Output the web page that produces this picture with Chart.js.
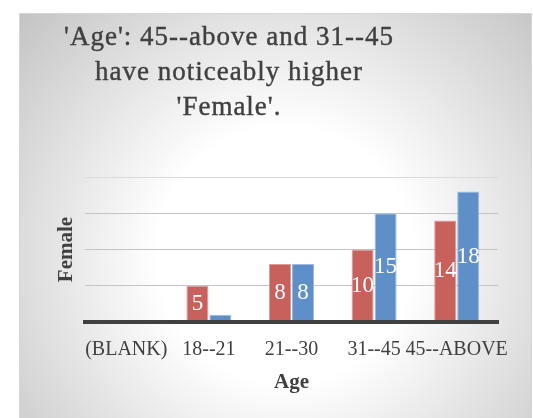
<!DOCTYPE html>
<html>
<head>
<meta charset="utf-8">
<style>
  html, body { margin: 0; padding: 0; background: #ffffff; }
  #wrap { position: relative; width: 533px; height: 418px; }
  canvas { display: block; }
  #title {
    position: absolute; left: 0; top: 19px; width: 458px;
    text-align: center; color: #404040;
    font-family: 'Liberation Serif', 'DejaVu Serif', serif;
    font-size: 27px; line-height: 35px; letter-spacing: 1px;
    -webkit-text-stroke: 0.4px #404040;
    white-space: nowrap; pointer-events: none;
  }
</style>
<script src="https://cdn.jsdelivr.net/npm/chart.js@4/dist/chart.umd.min.js"></script>
</head>
<body>
<div id="wrap"><canvas id="c" width="533" height="418"></canvas><div id="title"></div></div>
<script>
const categories = ['(BLANK)', '18--21', '21--30', '31--45', '45--ABOVE'];
const seriesRed = [0, 5, 8, 10, 14];
const seriesBlue = [0, 1, 8, 15, 18];
const yTicks = [0, 5, 10, 15, 20];
const titleLines = ["'Age': 45--above and 31--45", "have noticeably higher", "'Female'."];
const xTitle = 'Age';
const yTitle = 'Female';

const SERIF = "'Liberation Serif', 'DejaVu Serif', serif";
const TEXT = '#404040';

const titleEl = document.getElementById('title');
titleLines.forEach((t) => { const d = document.createElement('div'); d.textContent = t; titleEl.appendChild(d); });

const panelPlugin = {
  id: 'panel',
  beforeDraw(chart) {
    const ctx = chart.ctx;
    ctx.save();
    const g = ctx.createRadialGradient(285, 255, 0, 285, 255, 365);
    g.addColorStop(0, '#ffffff');
    g.addColorStop(0.35, '#ffffff');
    g.addColorStop(1, '#c2c2c2');
    ctx.fillStyle = g;
    ctx.fillRect(19, 13, 513, 410);
    ctx.strokeStyle = '#d6d6d6';
    ctx.lineWidth = 1;
    ctx.strokeRect(19.5, 13.5, 512, 410);
    ctx.restore();
  }
};

const labelPlugin = {
  id: 'barLabels',
  afterDatasetsDraw(chart) {
    const ctx = chart.ctx;
    ctx.save();
    ctx.font = Chart.helpers.toFont({ family: SERIF, size: 23 }).string;
    ctx.fillStyle = '#ffffff';
    ctx.textAlign = 'center';
    ctx.textBaseline = 'middle';
    chart.data.datasets.forEach((ds, di) => {
      const meta = chart.getDatasetMeta(di);
      meta.data.forEach((bar, i) => {
        const v = ds.data[i];
        if (!v || Math.abs(bar.base - bar.y) < 20) return;
        ctx.fillText(String(v), bar.x, (bar.y + bar.base) / 2);
      });
    });
    ctx.restore();
  }
};

new Chart(document.getElementById('c'), {
  type: 'bar',
  data: {
    labels: categories,
    datasets: [
      { label: 'Female (a)', data: seriesRed, backgroundColor: '#c8605c', borderColor: '#dc9c99', borderWidth: 1,
        categoryPercentage: 0.557, barPercentage: 0.957 },
      { label: 'Female (b)', data: seriesBlue, backgroundColor: '#5f8fc8', borderColor: '#9dbbe0', borderWidth: 1,
        categoryPercentage: 0.557, barPercentage: 0.957 }
    ]
  },
  options: {
    responsive: false,
    animation: false,
    devicePixelRatio: 1,
    layout: { padding: { top: 177, right: 35, bottom: 0, left: 48 } },
    plugins: { legend: { display: false }, title: { display: false }, tooltip: { enabled: false } },
    scales: {
      x: {
        grid: { display: false, drawTicks: false, tickLength: 0 },
        border: { display: true, color: '#404040', width: 4, z: 1 },
        ticks: { color: TEXT, font: { family: SERIF, size: 20 }, padding: 16, autoSkip: false, maxRotation: 0, minRotation: 0 },
        title: { display: true, text: xTitle, color: TEXT, font: { family: SERIF, size: 21, weight: 'bold' }, padding: { top: 0, bottom: 23 } },
        afterFit(scale) { scale.height = 96; }
      },
      y: {
        min: 0, max: 20,
        afterBuildTicks(scale) { scale.ticks = yTicks.map(v => ({ value: v })); },
        grid: { color: (c) => (c.tick && c.tick.value === 20 ? '#dadada' : '#c4c4c4'), lineWidth: 1, drawTicks: false, tickLength: 0 },
        border: { display: false },
        ticks: { display: false },
        title: { display: true, text: yTitle, color: TEXT, font: { family: SERIF, size: 21, weight: 'bold' }, padding: { top: 6, bottom: 0 } },
        afterFit(scale) { scale.width = 37; }
      }
    }
  },
  plugins: [panelPlugin, labelPlugin]
});
</script>
</body>
</html>
